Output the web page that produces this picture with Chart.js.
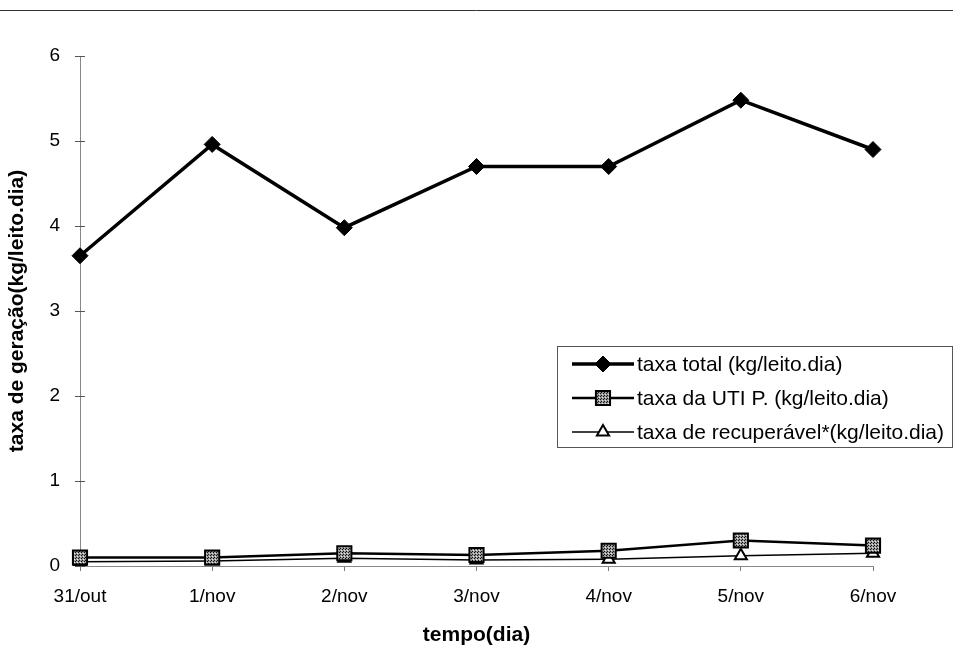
<!DOCTYPE html>
<html>
<head>
<meta charset="utf-8">
<script src="https://cdn.jsdelivr.net/npm/chart.js@4.4.1/dist/chart.umd.min.js"></script>
<style>
  html, body { margin: 0; padding: 0; background: #fff; }
  #wrap { width: 953px; height: 648px; position: relative; }
</style>
</head>
<body>
<div id="wrap"><canvas id="c" width="953" height="648"></canvas></div>
<script>
// Categories and series (kg/leito.dia per day)
const days = ['31/out', '1/nov', '2/nov', '3/nov', '4/nov', '5/nov', '6/nov'];
const taxaTotal = [3.65, 4.96, 3.98, 4.70, 4.70, 5.48, 4.90];
const taxaUTI = [0.10, 0.10, 0.15, 0.13, 0.18, 0.30, 0.24];
const taxaRecuperavel = [0.05, 0.06, 0.09, 0.07, 0.08, 0.12, 0.15];
const yTicks = [0, 1, 2, 3, 4, 5, 6];

const seriesNames = [
  'taxa total (kg/leito.dia)',
  'taxa da UTI P. (kg/leito.dia)',
  'taxa de recuperável*(kg/leito.dia)'
];

const FONT = '"Liberation Sans", Arial, sans-serif';

// Stippled grey fill for the square markers
function makeHatch() {
  const p = document.createElement('canvas');
  p.width = 3; p.height = 3;
  const g = p.getContext('2d');
  g.fillStyle = '#9a9a9a';
  g.fillRect(0, 0, 3, 3);
  g.fillStyle = '#111';
  g.fillRect(0, 0, 1, 1);
  g.fillRect(1, 2, 1, 1);
  g.fillStyle = '#e8e8e8';
  g.fillRect(2, 1, 1, 1);
  return g.createPattern(p, 'repeat');
}
const hatch = makeHatch();

// Thin rule across the top of the page
const topRule = {
  id: 'topRule',
  beforeDraw(chart) {
    const ctx = chart.ctx;
    ctx.save();
    ctx.strokeStyle = '#333';
    ctx.lineWidth = 1;
    ctx.beginPath();
    ctx.moveTo(0, 10.5);
    ctx.lineTo(chart.width, 10.5);
    ctx.stroke();
    ctx.restore();
  }
};

// Small cross ticks on the value axis (both sides of the axis line)
const crossTicks = {
  id: 'crossTicks',
  afterDraw(chart) {
    const ctx = chart.ctx, y = chart.scales.y, x0 = chart.scales.x.left;
    ctx.save();
    ctx.strokeStyle = '#555';
    ctx.lineWidth = 1;
    y.ticks.forEach(t => {
      const py = Math.round(y.getPixelForValue(t.value)) + 0.5;
      ctx.beginPath();
      ctx.moveTo(x0 - 5, py);
      ctx.lineTo(x0 + 5, py);
      ctx.stroke();
    });
    ctx.restore();
  }
};

// Boxed legend with line + marker samples
const boxLegend = {
  id: 'boxLegend',
  afterDraw(chart) {
    const ctx = chart.ctx;
    const x0 = 557, y0 = 346, x1 = 952, y1 = 447;
    ctx.save();
    ctx.strokeStyle = '#555';
    ctx.lineWidth = 1;
    ctx.strokeRect(x0 + 0.5, y0 + 0.5, x1 - x0, y1 - y0);
    const rowY = [364, 398, 432];
    const mx = 603;
    chart.data.datasets.forEach((ds, i) => {
      const y = rowY[i];
      const meta = chart.getDatasetMeta(i);
      const opts = meta.data[0].options;
      ctx.strokeStyle = '#000';
      ctx.lineWidth = ds.borderWidth;
      ctx.beginPath();
      ctx.moveTo(572, y);
      ctx.lineTo(634, y);
      ctx.stroke();
      ctx.fillStyle = opts.backgroundColor;
      ctx.strokeStyle = opts.borderColor;
      ctx.lineWidth = opts.borderWidth;
      ctx.beginPath();
      if (opts.pointStyle === 'rectRot') {
        const r = opts.radius;
        ctx.moveTo(mx, y - r); ctx.lineTo(mx + r, y);
        ctx.lineTo(mx, y + r); ctx.lineTo(mx - r, y);
      } else if (opts.pointStyle === 'rect') {
        const r = opts.radius * Math.SQRT1_2;
        ctx.rect(mx - r, y - r, 2 * r, 2 * r);
      } else {
        const r = opts.radius;
        ctx.moveTo(mx, y - r); ctx.lineTo(mx + r * 0.87, y + r * 0.5);
        ctx.lineTo(mx - r * 0.87, y + r * 0.5);
      }
      ctx.closePath();
      ctx.fill();
      ctx.stroke();
      ctx.fillStyle = '#000';
      ctx.font = '21px ' + FONT;
      ctx.textBaseline = 'middle';
      ctx.fillText(ds.label, 637, y + 1);
    });
    ctx.restore();
  }
};

new Chart(document.getElementById('c'), {
  type: 'line',
  data: {
    labels: days,
    datasets: [
      {
        label: seriesNames[0], data: taxaTotal,
        borderColor: '#000', borderWidth: 3.5,
        pointStyle: 'rectRot', pointRadius: 8,
        pointBackgroundColor: '#000', pointBorderColor: '#000', pointBorderWidth: 1
      },
      {
        label: seriesNames[1], data: taxaUTI,
        borderColor: '#000', borderWidth: 2.5,
        pointStyle: 'rect', pointRadius: 10,
        pointBackgroundColor: hatch, pointBorderColor: '#000', pointBorderWidth: 2
      },
      {
        label: seriesNames[2], data: taxaRecuperavel,
        borderColor: '#000', borderWidth: 1.5,
        pointStyle: 'triangle', pointRadius: 7,
        pointBackgroundColor: '#fff', pointBorderColor: '#000', pointBorderWidth: 2
      }
    ]
  },
  options: {
    responsive: false,
    animation: false,
    events: [],
    layout: { padding: { left: 0, right: 80, top: 56, bottom: 0 } },
    plugins: { legend: { display: false }, tooltip: { enabled: false } },
    scales: {
      x: {
        offset: false,
        grid: { display: true, drawOnChartArea: false, tickLength: 5, color: '#777' },
        border: { display: true, color: '#888', width: 1, dash: [2, 1] },
        ticks: { color: '#000', font: { family: FONT, size: 19 }, padding: 14, maxRotation: 0 },
        title: { display: true, text: 'tempo(dia)', color: '#000',
                 font: { family: FONT, size: 21, weight: 'bold' }, padding: { top: 0, bottom: 0 } },
        afterFit(s) { s.height = 82; }
      },
      y: {
        min: 0, max: 6,
        afterBuildTicks(s) { s.ticks = yTicks.map(v => ({ value: v })); },
        grid: { display: false },
        border: { display: true, color: '#888', width: 1, dash: [2, 1] },
        ticks: { color: '#000', font: { family: FONT, size: 19 }, padding: 12 },
        title: { display: true, text: 'taxa de geração(kg/leito.dia)', color: '#000',
                 font: { family: FONT, size: 21, weight: 'bold' }, padding: { top: 5, bottom: 0 } },
        afterFit(s) { s.width = 80; }
      }
    }
  },
  plugins: [topRule, crossTicks, boxLegend]
});
</script>
</body>
</html>
